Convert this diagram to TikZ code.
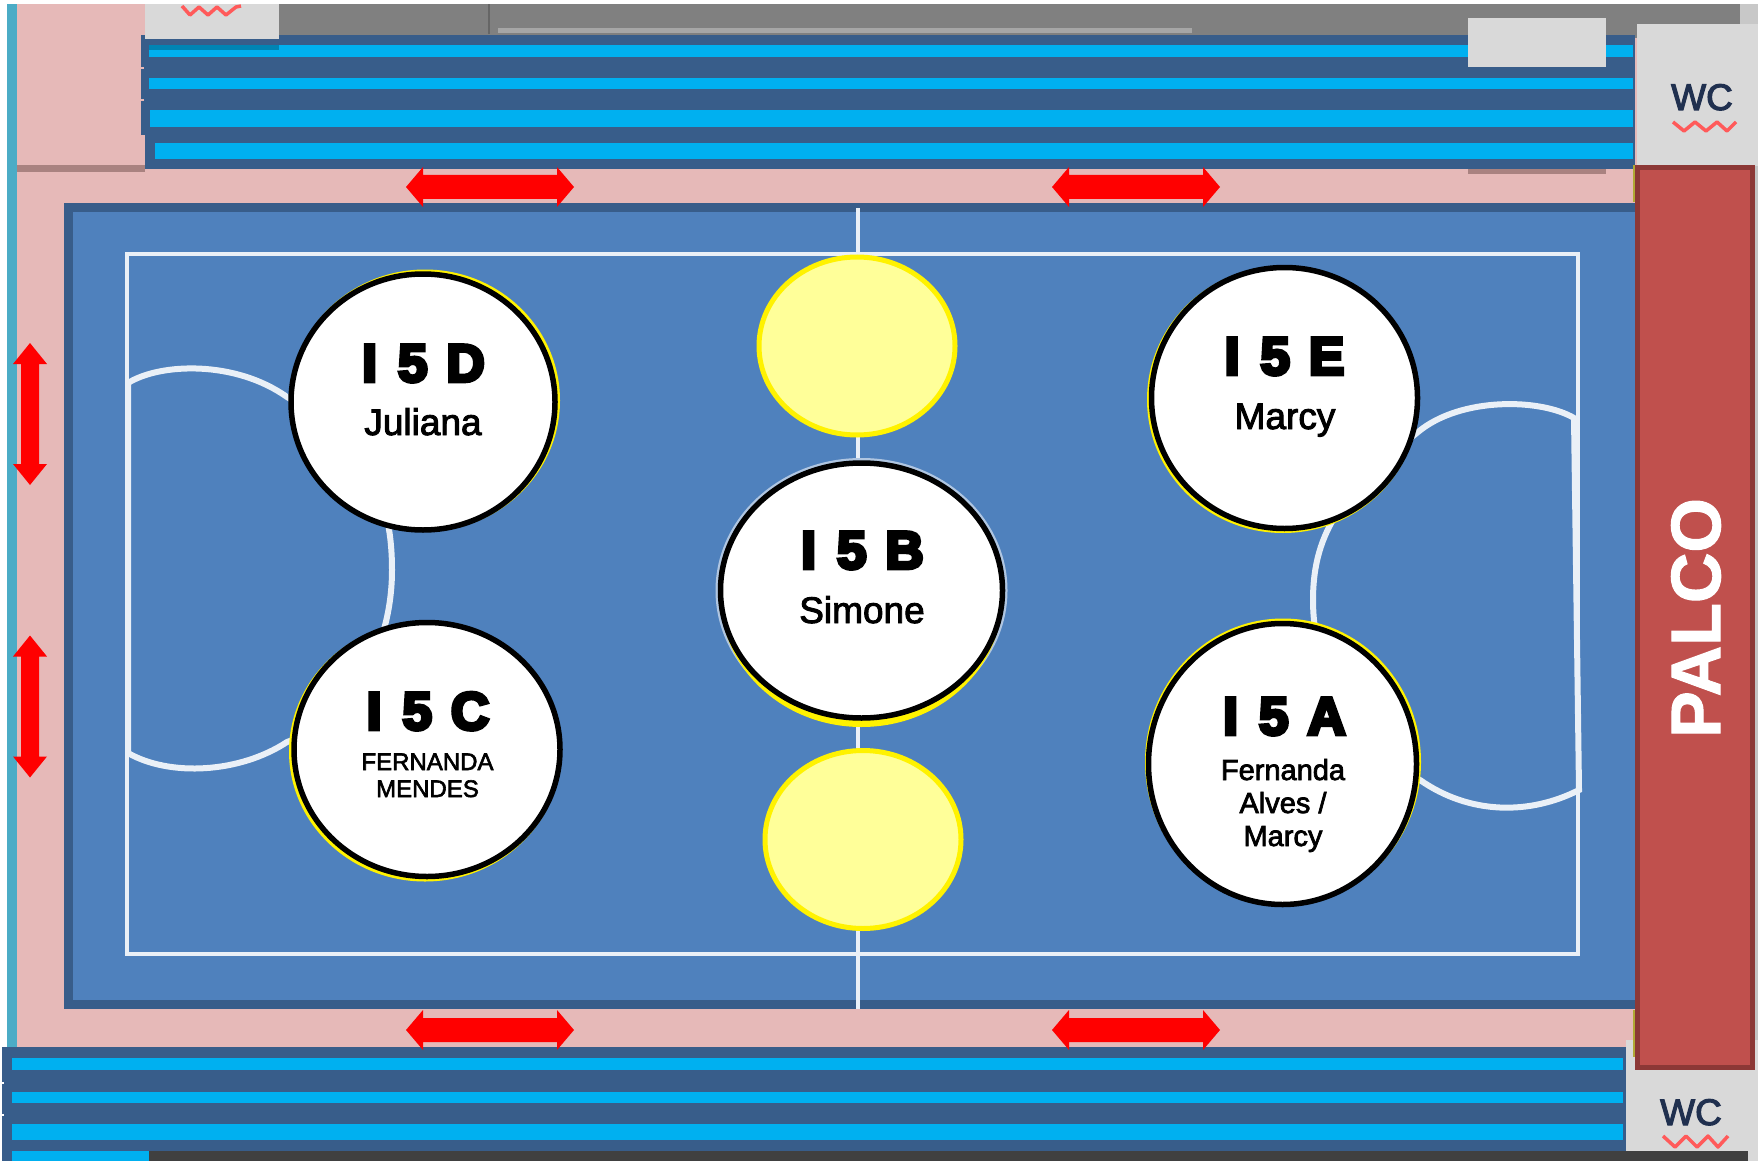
\documentclass[tikz,border=0pt]{standalone}
\usepackage{fontspec}
\setmainfont{Liberation Sans}
\newfontfamily\heavyfont[FakeBold=7]{Liberation Sans Bold}
\newfontfamily\palcofont[FakeBold=1.5]{Liberation Sans Bold}
\newfontfamily\namefont[FakeBold=2.5]{Liberation Sans}
\newfontfamily\wcfont[FakeBold=3]{Liberation Sans}
\usetikzlibrary{shapes.geometric}
\definecolor{pinkfloor}{HTML}{E6B9B8}
\definecolor{pinkshade}{HTML}{A98280}
\definecolor{tealedge}{HTML}{4BACC6}
\definecolor{standdark}{HTML}{385D8A}
\definecolor{standcyan}{HTML}{00B0F0}
\definecolor{bandgray}{HTML}{808080}
\definecolor{boxgray}{HTML}{D9D9D9}
\definecolor{courtblue}{HTML}{4F81BD}
\definecolor{palcored}{HTML}{C0504D}
\definecolor{palcoedge}{HTML}{8C3836}
\definecolor{pale}{HTML}{FFFF99}
\definecolor{squiggle}{HTML}{FF5A5A}
\definecolor{wcink}{HTML}{20304F}
\definecolor{barGray}{HTML}{404040}
\tikzset{
  courtline/.style={draw=white!88!courtblue,line width=4pt},
  arcline/.style={draw=white!88!courtblue,line width=6pt},
  wave/.style={draw=squiggle,line width=3.5pt,line join=round},
  ballback/.style={ellipse,fill=yellow,inner sep=0pt,outer sep=0pt},
  ball/.style={ellipse,draw=black,line width=5.5pt,fill=white,inner sep=0pt,outer sep=0pt},
  spot/.style={ellipse,draw=yellow,line width=5pt,fill=pale,inner sep=0pt,outer sep=0pt},
  codelabel/.style={anchor=base,inner sep=0pt,font=\heavyfont\fontsize{53}{53}\selectfont},
  namelabel/.style={anchor=base,inner sep=0pt,font=\namefont\fontsize{37}{37}\selectfont},
  midlabel/.style={anchor=base,inner sep=0pt,font=\namefont\fontsize{29}{29}\selectfont},
  smalllabel/.style={anchor=base,inner sep=0pt,font=\namefont\fontsize{24}{24}\selectfont},
  wclabel/.style={anchor=base,inner sep=0pt,text=wcink,font=\wcfont\fontsize{37}{37}\selectfont},
  hflow/.pic={\fill[red,line join=round] (-84,0)--(-67,-20)--(-67,-12)--(67,-12)--(67,-20)--(84,0)--(67,20)--(67,12)--(-67,12)--(-67,20)--cycle;},
  vflow/.pic={\fill[red] (0,-71)--(17,-50)--(9,-50)--(9,50)--(17,50)--(0,71)--(-17,50)--(-9,50)--(-9,-50)--(-17,-50)--cycle;},
}
\newcommand{\gapped}[3]{#1\hspace{21pt}#2\hspace{19pt}#3}
\begin{document}
\begin{tikzpicture}[x=1pt,y=-1pt]
\useasboundingbox (0,0) rectangle (1758,1161);
\fill[white] (0,0) rectangle (1758,1161);
% floor
\fill[pinkfloor] (17,4) rectangle (1640,1050);
\fill[tealedge] (7,4) rectangle (17,1050);
\fill[pinkshade] (17,165) rectangle (145,172);
% top band
\fill[bandgray] (279,4) rectangle (1740,38);
\fill[black!60] (488,4) rectangle (490,34);
\fill[black!35] (498,28) rectangle (1192,33);
% top stands
\fill[standdark] (141,35) rectangle (1635,135);
\fill[standdark] (145,135) rectangle (1635,169);
\fill[pinkfloor] (139,67) rectangle (144,69);
\fill[pinkfloor] (139,99) rectangle (144,101);
\fill[standcyan] (149,45) rectangle (1633,57);
\fill[standcyan] (149,78) rectangle (1633,89);
\fill[standcyan] (150,110) rectangle (1633,127);
\fill[standcyan] (155,143) rectangle (1633,159);
\fill[pinkshade] (1468,169) rectangle (1606,174);
% corner boxes
\fill[boxgray] (145,4) rectangle (279,39);
\fill[black!25!standcyan] (149,45) rectangle (279,50);
\draw[wave] (182,6)--(190,15)--(199,7)--(208,15)--(217,7)--(226,15)--(236,7)--(241,6);
\fill[boxgray] (1468,18) rectangle (1606,67);
\fill[black!8!boxgray] (1740,4) rectangle (1758,24);
\fill[boxgray] (1637,24) rectangle (1758,166);
\node[wclabel] (wctop) at (1702,110) {WC};
\draw[wave] (1673,122)--(1684,131)--(1695,122)--(1706,131)--(1717,122)--(1727,131)--(1736,122);
% bottom stands
\fill[boxgray] (1626,1040) rectangle (1758,1161);
\fill[standdark] (2,1047) rectangle (1626,1161);
\fill[white] (0,1082) rectangle (4,1084);
\fill[white] (0,1114) rectangle (4,1116);
\fill[standcyan] (12,1058) rectangle (1623,1070);
\fill[standcyan] (12,1092) rectangle (1623,1103);
\fill[standcyan] (12,1124) rectangle (1623,1140);
\fill[standcyan] (12,1151) rectangle (149,1161);
\fill[barGray] (149,1151) rectangle (1748,1161);
\node[wclabel] (wcbottom) at (1691,1125) {WC};
\draw[wave] (1663,1136)--(1675,1147)--(1686,1136)--(1697,1147)--(1708,1136)--(1718,1147)--(1728,1136);
% court
\fill[standdark] (64,203) rectangle (1640,1009);
\fill[courtblue] (73,212) rectangle (1640,1000);
\draw[courtline] (127,253.5) rectangle (1578,953.5);
\draw[courtline] (858,208)--(858,1009);
\draw[arcline] (128,383) .. controls (160,363) and (235,360) .. (287,397)
  .. controls (370,445) and (392,500) .. (392,570)
  .. controls (392,650) and (350,720) .. (287,742)
  .. controls (240,773) and (170,777) .. (128,753) -- cycle;
\draw[arcline] (1574,418) .. controls (1540,398) and (1460,397) .. (1418,432)
  .. controls (1345,490) and (1313,530) .. (1313,600)
  .. controls (1313,680) and (1360,750) .. (1420,780)
  .. controls (1470,815) and (1530,815) .. (1579,790)
  -- cycle;
% palco
\draw[draw=olive!70,line width=2pt] (1634,165)--(1634,202) (1634,1010)--(1634,1057);
\fill[black!10!boxgray] (1754,166) rectangle (1758,1040);
\node[draw=palcoedge,fill=palcored,line width=5pt,minimum width=115pt,minimum height=900pt,inner sep=0pt,outer sep=0pt] (palco) at (1695,617.5) {};
\node[rotate=90,text=white,inner sep=0pt,font=\palcofont\fontsize{70}{70}\selectfont] (palcotext) at (1696,618) {PALCO};
% spots
\node[spot,minimum width=196pt,minimum height=178pt] (spottop) at (857,346) {};
\node[spot,minimum width=196pt,minimum height=178pt] (spotbottom) at (863,839.5) {};
% seats
\node[ballback,minimum width=270pt,minimum height=262pt] (backD) at (425,400.5) {};
\node[ball,minimum width=264pt,minimum height=256pt] (seatD) at (423,402) {};
\node[ballback,minimum width=272pt,minimum height=260pt] (backC) at (425,751.5) {};
\node[ball,minimum width=266pt,minimum height=254pt] (seatC) at (427,749.5) {};
\node[ballback,minimum width=272pt,minimum height=267pt] (backE) at (1283,399.5) {};
\node[ball,minimum width=266pt,minimum height=261pt] (seatE) at (1284.5,398) {};
\node[ballback,minimum width=276pt,minimum height=287pt] (backA) at (1283,762) {};
\node[ball,minimum width=268pt,minimum height=281pt] (seatA) at (1282.5,764) {};
\node[ellipse,fill=white!55!courtblue,minimum width=292pt,minimum height=265pt,inner sep=0pt] (haloB) at (861.5,590.5) {};
\node[ballback,minimum width=282pt,minimum height=260pt] (backB) at (861.5,597) {};
\node[ball,minimum width=282pt,minimum height=255pt] (seatB) at (861.5,590.5) {};
% labels
\node[codelabel] (codeD) at (423.5,381.5) {\gapped{I}{5}{D}};
\node[namelabel] (nameD) at (423,435) {Juliana};
\node[codelabel] (codeC) at (428,729.5) {\gapped{I}{5}{C}};
\node[smalllabel] (nameC1) at (427.5,770) {FERNANDA};
\node[smalllabel] (nameC2) at (427.5,797) {MENDES};
\node[codelabel] (codeB) at (862.5,568.5) {\gapped{I}{5}{B}};
\node[namelabel] (nameB) at (862,623) {Simone};
\node[codelabel] (codeE) at (1284.5,374.5) {\gapped{I}{5}{E}};
\node[namelabel] (nameE) at (1285,429) {Marcy};
\node[codelabel] (codeA) at (1284.5,734.5) {\gapped{I}{5}{A}};
\node[midlabel] (nameA1) at (1283,780) {Fernanda};
\node[midlabel] (nameA2) at (1283,813) {Alves /};
\node[midlabel] (nameA3) at (1283,846) {Marcy};
% passage arrows
\pic at (490,187) {hflow};
\pic at (1136,187) {hflow};
\pic at (490,1030) {hflow};
\pic at (1136,1030) {hflow};
\pic at (30,414) {vflow};
\pic at (30,706.5) {vflow};
\end{tikzpicture}
\end{document}
